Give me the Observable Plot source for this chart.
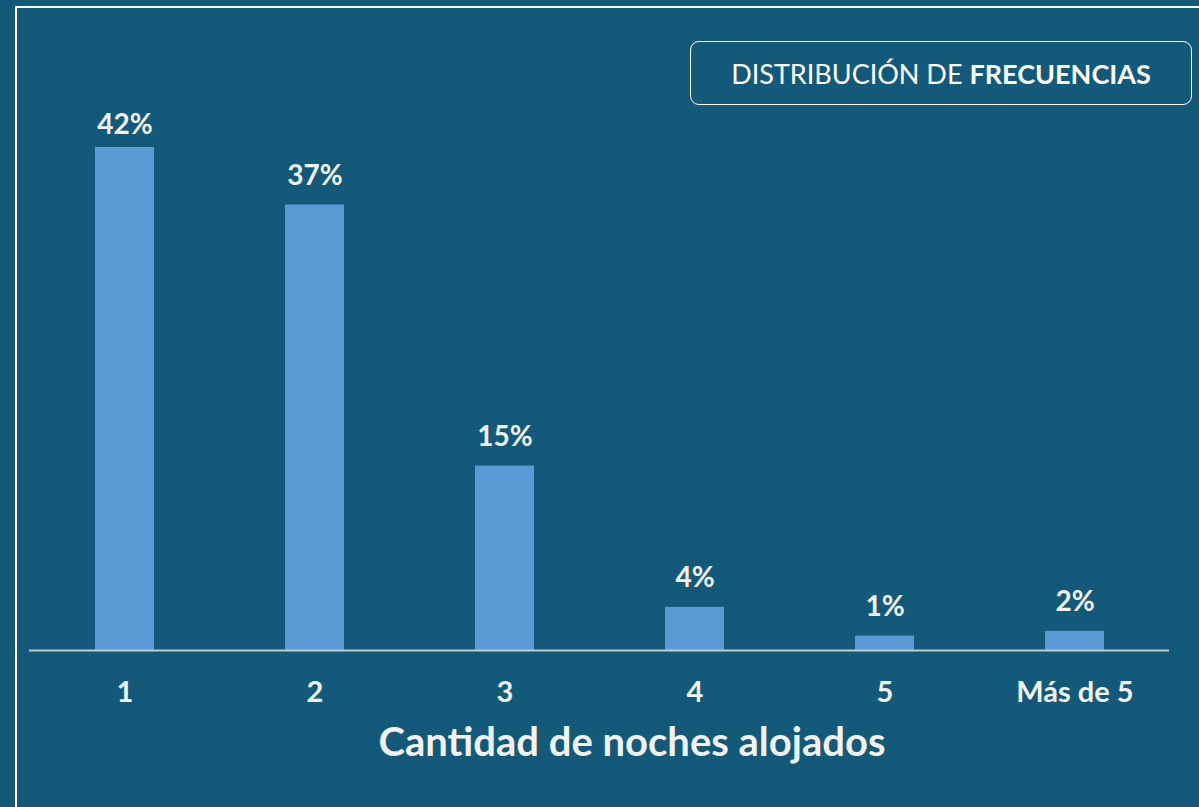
<!DOCTYPE html>
<html><head><meta charset="utf-8">
<script src="https://cdn.jsdelivr.net/npm/d3@7"></script>
<script src="https://cdn.jsdelivr.net/npm/@observablehq/plot@0.6"></script>
<style>
html,body{margin:0;padding:0;background:#135a7a;overflow:hidden}
#wrap{position:relative;width:1199px;height:807px;overflow:hidden;font-family:Lato,"Open Sans",sans-serif;color:#f2f2f2}
#frame{position:absolute;left:15px;top:6px;width:1400px;height:1000px;border-left:2px solid #fff;border-top:2px solid #fff}
#title{position:absolute;left:690px;top:41px;width:502px;height:64px;box-sizing:border-box;border:1.5px solid #fff;border-radius:9px;display:flex;align-items:center;justify-content:center;font-size:27px;color:#fff;white-space:nowrap}
#title b{font-weight:700}
#xlabel{position:absolute;left:232px;width:800px;top:721px;text-align:center;font-size:40px;line-height:40px;font-weight:700;color:#f2f2f2;white-space:nowrap}
#chart{position:absolute;left:0;top:0}
#chart svg g[aria-label="x-axis tick label"] text{font-weight:700}
</style></head>
<body>
<div id="wrap">
  <div id="frame"></div>
  <div id="chart"></div>
  <div id="title">DISTRIBUCIÓN DE&nbsp;<b>FRECUENCIAS</b></div>
  <div id="xlabel">Cantidad de noches alojados</div>
</div>
<script>
const categories = ["1", "2", "3", "4", "5", "Más de 5"];
const values = [42, 37.2, 15.4, 3.6, 1.2, 1.6];
const labels = ["42%", "37%", "15%", "4%", "1%", "2%"];
const axisTitle = "Cantidad de noches alojados";

const data = categories.map((c, i) => ({cat: c, value: values[i], label: labels[i]}));
const maxV = d3.max(values);

const chart = Plot.plot({
  width: 1199,
  height: 807,
  marginLeft: 29,
  marginRight: 30,
  marginTop: 147,
  marginBottom: 157,
  style: {background: "transparent", fontFamily: "Lato, 'Open Sans', sans-serif", color: "#f2f2f2", overflow: "visible"},
  x: {domain: categories, paddingInner: 0.69, paddingOuter: 0.345, label: null},
  y: {domain: [0, maxV], axis: null},
  marks: [
    Plot.barY(data, {x: "cat", y: "value", fill: "#5b9bd5"}),
    Plot.ruleY([0], {stroke: "#c8c8c8", strokeWidth: 2}),
    Plot.text(data.filter(d => d.value < maxV), {x: "cat", y: "value", text: "label", lineAnchor: "bottom", dy: -20, fill: "#f2f2f2", fontSize: 28, fontWeight: "bold"}),
    Plot.text(data.filter(d => d.value >= maxV), {x: "cat", y: "value", text: "label", lineAnchor: "bottom", dy: -14, fill: "#f2f2f2", fontSize: 28, fontWeight: "bold"}),
    Plot.axisX({tickSize: 0, tickPadding: 31, fontSize: 29, fontWeight: "bold", label: null})
  ]
});
document.getElementById("chart").appendChild(chart);
document.getElementById("xlabel").textContent = axisTitle;
</script>
</body></html>
